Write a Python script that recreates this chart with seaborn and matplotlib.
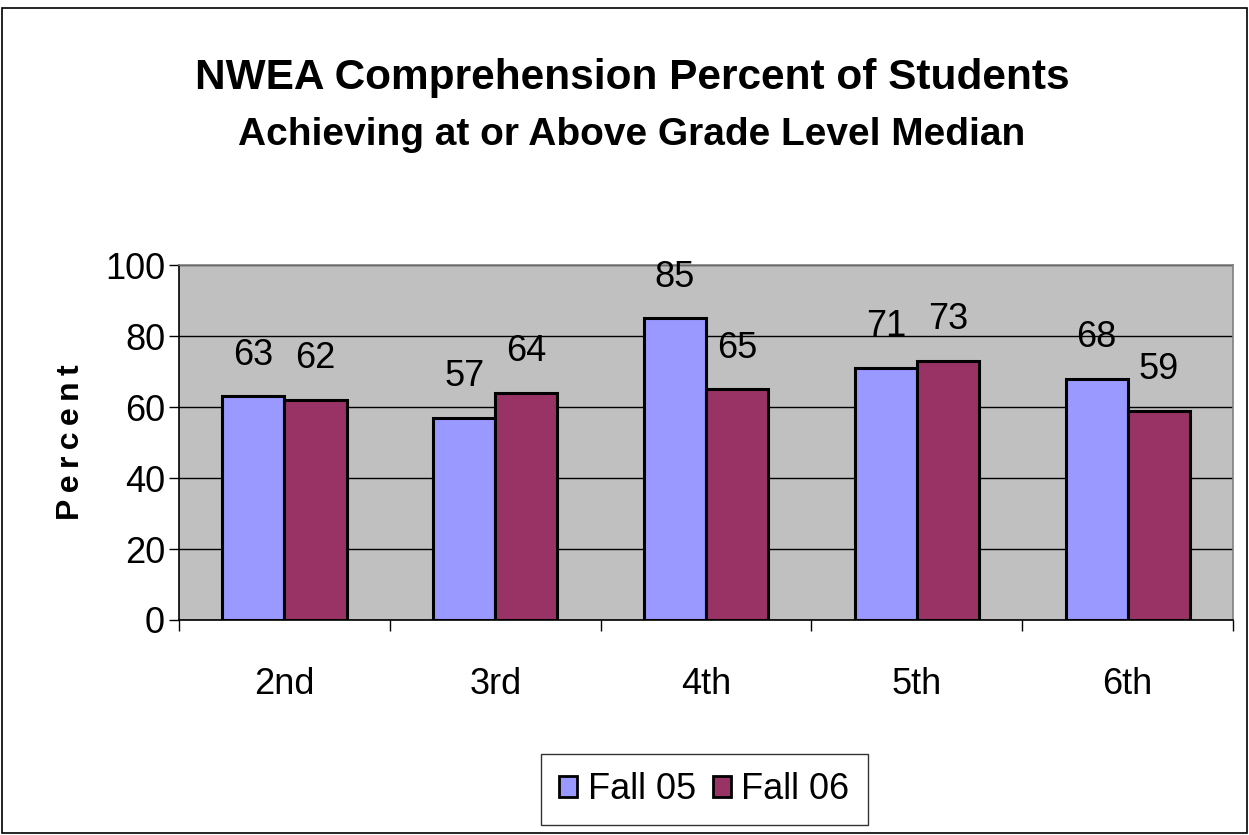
import numpy as np
import pandas as pd
import seaborn as sns
import matplotlib.pyplot as plt
from matplotlib.patches import Rectangle
from matplotlib.ticker import FixedLocator

grades = ['2nd', '3rd', '4th', '5th', '6th']
fall05 = [63, 57, 85, 71, 68]
fall06 = [62, 64, 65, 73, 59]
terms = ['Fall 05', 'Fall 06']

df = pd.DataFrame({
    'grade': grades * 2,
    'percent': fall05 + fall06,
    'term': [terms[0]] * len(grades) + [terms[1]] * len(grades),
})

sns.set_theme(style='white')
plt.rcParams['font.family'] = ['Liberation Sans', 'DejaVu Sans']
plt.rcParams['text.color'] = 'black'
plt.rcParams['axes.labelcolor'] = 'black'
plt.rcParams['xtick.color'] = 'black'
plt.rcParams['ytick.color'] = 'black'

fig = plt.figure(figsize=(12.49, 8.35), dpi=100)
ax = fig.add_axes([0.1433, 0.2575, 0.844, 0.425])
ax.set_facecolor('#c0c0c0')

sns.barplot(data=df, x='grade', y='percent', hue='term',
            palette=['#9999ff', '#993366'], saturation=1, width=0.59,
            edgecolor='black', linewidth=2.2, ax=ax, legend=False)

ax.set_ylim(0, 100)
ax.set_xlim(-0.5, 4.5)
ax.set_yticks([0, 20, 40, 60, 80, 100])
ax.yaxis.grid(True, color='black', linewidth=1)
ax.set_axisbelow(True)
for c in ax.containers:
    ax.bar_label(c, fontsize=26, padding=17, color='black')

ax.tick_params(axis='y', labelsize=26, length=7, width=1, color='black', direction='out', left=True, pad=3)
ax.tick_params(axis='x', which='major', labelsize=26, length=0, pad=34)
ax.xaxis.set_minor_locator(FixedLocator(np.arange(-0.5, 5, 1)))
ax.tick_params(axis='x', which='minor', length=8, width=1, color='black', direction='out', bottom=True)

for s in ['top', 'right']:
    ax.spines[s].set_color('#808080')
for s in ['left', 'bottom']:
    ax.spines[s].set_color('black')
for s in ax.spines.values():
    s.set_linewidth(1.2)

ax.set_xlabel('')
ax.set_ylabel('\u2009'.join('Percent'), fontsize=23, fontweight='bold', labelpad=14)

fig.text(0.506, 0.907, 'NWEA Comprehension Percent of Students', ha='center', va='center',
         fontsize=30.5, fontweight='bold')
fig.text(0.506, 0.838, 'Achieving at or Above Grade Level Median', ha='center', va='center',
         fontsize=28, fontweight='bold')

handles = [Rectangle((0, 0), 1, 1, facecolor=col, edgecolor='black', linewidth=2)
           for col in ['#9999ff', '#993366']]
leg = fig.legend(handles, terms, loc='center', bbox_to_anchor=(0.564, 0.054), ncol=2,
                 fontsize=26, frameon=True, fancybox=False, edgecolor='black',
                 handlelength=0.5, handleheight=0.5, handletextpad=0.3, columnspacing=0.45,
                 borderpad=0.5, borderaxespad=0)
leg.get_frame().set_linewidth(1)

fig.patches.append(Rectangle((0.002, 0.002), 0.996, 0.988, transform=fig.transFigure,
                             fill=False, edgecolor='black', linewidth=1.2))

fig.savefig('out.png', dpi=100)
